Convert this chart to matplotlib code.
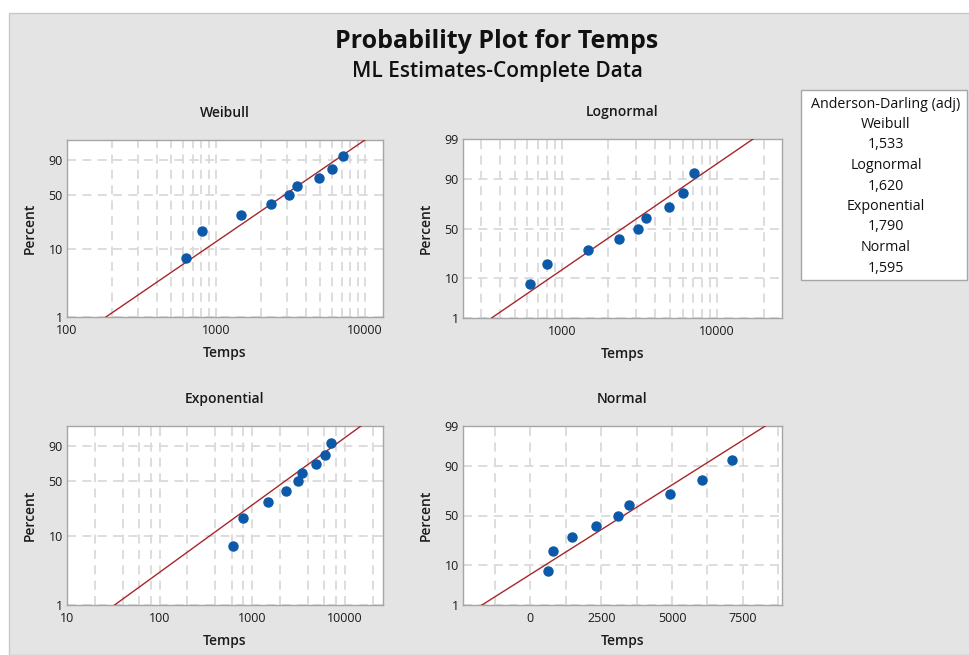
"""
Probability plots for Temps (Weibull, Lognormal, Exponential, Normal)
"""

import numpy as np
import matplotlib
matplotlib.use('Agg')
import matplotlib.pyplot as plt
import matplotlib.ticker as mticker
from matplotlib.patches import Rectangle
from statistics import NormalDist

#---------------------------------------------------------------------------------------------------
# Input Parameters
#---------------------------------------------------------------------------------------------------

# Observed temps and plotting positions (percent)
temps = [625, 805, 1485, 2330, 3100, 3480, 4930, 6060, 7100]
percent = [7.4, 18.1, 28.7, 39.4, 50.0, 60.6, 71.3, 81.9, 92.6]

# Fitted (ML) parameters
weib_shape, weib_scale = 1.53, 3690.
logn_mu, logn_sigma = 7.806, 0.834
expo_mean = 3250.
norm_mu, norm_sigma = 3290., 2150.

# Anderson-Darling (adj) box
ad_names = ['Weibull', 'Lognormal', 'Exponential', 'Normal']
ad_values = ['1,533', '1,620', '1,790', '1,595']

W, H = 970, 655
fontname = 'Open Sans'
plt.rcParams['font.family'] = [fontname, 'DejaVu Sans']

pt_color = '#0b59a8'
line_color = '#a8262b'
grid_color = '#dadada'
spine_color = '#a6a6a6'
text_color = '#1a1a1a'

#---------------------------------------------------------------------------------------------------
# Probability scales
#---------------------------------------------------------------------------------------------------

_nd = NormalDist()
_inv_cdf = np.vectorize(_nd.inv_cdf, otypes=[float])
_cdf = np.vectorize(_nd.cdf, otypes=[float])


def norm_fwd(p):
    p = np.clip(np.asarray(p, dtype=float) / 100., 1e-9, 1 - 1e-9)
    return _inv_cdf(p)


def norm_inv(z):
    return _cdf(np.asarray(z, dtype=float)) * 100.


def weib_fwd(p):
    p = np.clip(np.asarray(p, dtype=float) / 100., 1e-9, 1 - 1e-9)
    return np.log(-np.log(1 - p))


def weib_inv(w):
    return 100. * (1 - np.exp(-np.exp(np.asarray(w, dtype=float))))


def px(x0, y0, x1, y1):
    # pixel box (top-left origin) -> figure fraction rect
    return [x0 / W, 1 - y1 / H, (x1 - x0) / W, (y1 - y0) / H]


#---------------------------------------------------------------------------------------------------
# Main Program
#---------------------------------------------------------------------------------------------------

fig = plt.figure(figsize=(W / 100, H / 100), dpi=100, facecolor='white')
fig.patches.append(Rectangle((9 / W, 0), 1, 1 - 13 / H, transform=fig.transFigure,
                             facecolor='#e4e4e4', edgecolor='#c8c8c8', lw=1, zorder=-10))

# Fitted lines, evaluated on the percent axis
p_line = np.linspace(1, 99, 300)
q = -np.log(1 - p_line / 100.)
fits = {
    'Weibull': weib_scale * q ** (1 / weib_shape),
    'Lognormal': np.exp(logn_mu + logn_sigma * norm_fwd(p_line)),
    'Exponential': expo_mean * q,
    'Normal': norm_mu + norm_sigma * norm_fwd(p_line),
}

panels = {
    'Weibull': dict(box=(67, 140, 383, 317), xlim=(100, 13250), yscale='weib',
                    xlog=True, subs=np.arange(2, 10)),
    'Lognormal': dict(box=(463, 139, 782, 318), xlim=(231, 26250), yscale='norm',
                      xlog=True, subs=np.arange(2, 10)),
    'Exponential': dict(box=(67, 426, 383, 605), xlim=(10, 25900), yscale='weib',
                        xlog=True, subs=[2, 4, 6, 8]),
    'Normal': dict(box=(463, 426, 782, 605), xlim=(-2380, 8880), yscale='norm', xlog=False),
}

for name, pd in panels.items():
    x0, y0, x1, y1 = pd['box']
    ax = fig.add_axes(px(x0, y0, x1, y1))
    ax.set_facecolor('white')

    if pd['xlog']:
        ax.set_xscale('log')
        ax.xaxis.set_major_locator(mticker.LogLocator(base=10, numticks=10))
        ax.xaxis.set_minor_locator(mticker.LogLocator(base=10, subs=pd['subs'], numticks=20))
        ax.xaxis.set_major_formatter(mticker.FuncFormatter(lambda v, pos: f"{v:.0f}"))
        ax.xaxis.set_minor_formatter(mticker.NullFormatter())
    else:
        ax.xaxis.set_major_locator(mticker.MultipleLocator(2500))
        ax.xaxis.set_minor_locator(mticker.MultipleLocator(1250))
        ax.xaxis.set_major_formatter(mticker.FuncFormatter(lambda v, pos: f"{v:.0f}"))

    if pd['yscale'] == 'weib':
        ax.set_yscale('function', functions=(weib_fwd, weib_inv))
        yt = [1, 10, 50, 90]
    else:
        ax.set_yscale('function', functions=(norm_fwd, norm_inv))
        yt = [1, 10, 50, 90, 99]
    ax.set_ylim(1, 99)
    ax.set_xlim(pd['xlim'])
    ax.yaxis.set_major_locator(mticker.FixedLocator(yt))
    ax.yaxis.set_major_formatter(mticker.FixedFormatter([str(v) for v in yt]))
    ax.yaxis.set_minor_locator(mticker.NullLocator())

    ax.grid(which='both', color=grid_color, ls=(0, (5, 3.5)), lw=1.3)
    ax.set_axisbelow(True)
    for s in ax.spines.values():
        s.set_color(spine_color)
        s.set_linewidth(1.0)
    ax.tick_params(which='both', length=0, labelsize=9, colors=text_color)
    ax.tick_params(axis='x', pad=5)
    ax.tick_params(axis='y', pad=3)

    ax.plot(fits[name], p_line, color=line_color, lw=1.0, zorder=3)
    ax.plot(temps, percent, 'o', color=pt_color, ms=6.5, zorder=4)

    # Panel title and axis labels
    cx = (x0 + x1) / 2
    fig.text(cx / W, 1 - (y0 - 27) / H, name, ha='center', va='center', fontsize=10,
             weight='semibold', color=text_color)
    fig.text(cx / W, 1 - (y1 + 36) / H, 'Temps', ha='center', va='center', fontsize=10,
             weight='semibold', color=text_color)
    fig.text((x0 - 37) / W, 1 - ((y0 + y1) / 2) / H, 'Percent', ha='center', va='center',
             rotation=90, fontsize=10, weight='semibold', color=text_color)

# Titles
fig.text(497 / W, 1 - 42 / H, 'Probability Plot for Temps', ha='center', va='center',
         fontsize=18, weight='bold', color='#111111')
fig.text(497 / W, 1 - 72 / H, 'ML Estimates-Complete Data', ha='center', va='center',
         fontsize=15, weight='semibold', color='#111111')

# Anderson-Darling box
fig.patches.append(Rectangle((801 / W, 1 - 280 / H), 166 / W, 190 / H, transform=fig.transFigure,
                             facecolor='white', edgecolor=spine_color, lw=1, zorder=1))
lines = ['Anderson-Darling (adj)']
for n, v in zip(ad_names, ad_values):
    lines += [n, v]
for i, t in enumerate(lines):
    fig.text(886 / W, 1 - (104 + i * 20.5) / H, t, ha='center', va='center', fontsize=10.3,
             color='#111111', zorder=2)

plt.savefig('out.png', dpi=100, facecolor=fig.get_facecolor())
plt.close()
